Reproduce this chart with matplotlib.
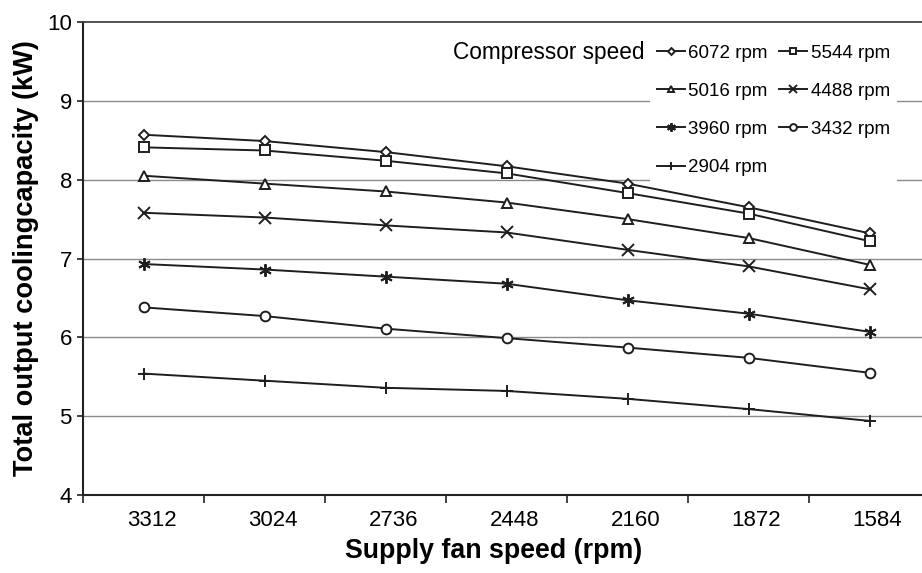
import matplotlib
matplotlib.use("Agg")
import matplotlib.pyplot as plt
from matplotlib.transforms import ScaledTranslation
import numpy as np

plt.rcParams['font.family'] = ['Liberation Sans', 'DejaVu Sans']

fan_speeds = ["3312", "3024", "2736", "2448", "2160", "1872", "1584"]
series_labels = ["6072 rpm", "5544 rpm", "5016 rpm", "4488 rpm", "3960 rpm", "3432 rpm", "2904 rpm"]
cap_6072 = [8.57, 8.49, 8.35, 8.17, 7.95, 7.65, 7.32]
cap_5544 = [8.41, 8.37, 8.24, 8.08, 7.83, 7.57, 7.22]
cap_5016 = [8.05, 7.95, 7.85, 7.71, 7.50, 7.26, 6.92]
cap_4488 = [7.58, 7.52, 7.42, 7.33, 7.11, 6.90, 6.61]
cap_3960 = [6.93, 6.86, 6.77, 6.68, 6.47, 6.30, 6.07]
cap_3432 = [6.38, 6.27, 6.11, 5.99, 5.87, 5.74, 5.55]
cap_2904 = [5.54, 5.45, 5.36, 5.32, 5.22, 5.09, 4.94]
series = [cap_6072, cap_5544, cap_5016, cap_4488, cap_3960, cap_3432, cap_2904]
markers = ['D', 's', '^', 'x', (6, 2, 0), 'o', '+']
msizes = [5, 7, 7, 8, 9, 7, 9]

fig = plt.figure(figsize=(9.22, 5.73), dpi=100)
ax = fig.add_axes([83/922, 78/573, 847/922, 473/573])

x = np.arange(len(fan_speeds))
lc = '#1e1e1e'
handles = []
for vals, m, ms, lab in zip(series, markers, msizes, series_labels):
    filled = m in ('x', '+') or isinstance(m, tuple)
    h, = ax.plot(x, vals, color=lc, lw=1.4, marker=m, markersize=ms,
                 markerfacecolor=(lc if filled else 'white'), markeredgecolor=lc,
                 markeredgewidth=1.4, label=lab, zorder=3)
    handles.append(h)

ax.set_xlim(-0.5, 6.5)
ax.set_ylim(4, 10)
ax.set_yticks(range(4, 11))
ax.set_xticks(x)
ax.set_xticklabels(fan_speeds)
ax.set_xticks(np.arange(-0.5, 7.0, 1.0), minor=True)
ax.tick_params(axis='x', which='major', length=0, pad=11, labelsize=16)
ax.tick_params(axis='x', which='minor', length=6, width=1.2, color='#222')
ax.tick_params(axis='y', length=4, width=1.2, color='#222', pad=4, labelsize=16)
for lbl in ax.get_xticklabels():
    lbl.set_transform(lbl.get_transform() + ScaledTranslation(8/100, 0, fig.dpi_scale_trans))

for yv in range(5, 10):
    ax.axhline(yv, color='#8a8a8a', lw=1.0, zorder=1)

for s in ['left', 'bottom']:
    ax.spines[s].set_linewidth(1.5)
    ax.spines[s].set_color('#222')
ax.spines['top'].set_linewidth(1.3)
ax.spines['top'].set_color('#444')
ax.spines['right'].set_visible(False)

ax.set_xlabel("Supply fan speed (rpm)", fontsize=19.3, fontweight='bold', labelpad=5)
ax.xaxis.label.set_x((493.5 - 83) / 847)
ax.set_ylabel("Total output coolingcapacity (kW)", fontsize=19.6, fontweight='bold', labelpad=6)

order = [0, 2, 4, 6, 1, 3, 5]
leg = ax.legend([handles[i] for i in order], [series_labels[i] for i in order],
                ncol=2, loc='upper left', bbox_to_anchor=(650/922, 1 - 38/573),
                bbox_transform=fig.transFigure, borderaxespad=0, borderpad=0.35,
                frameon=True, fancybox=False, framealpha=1, edgecolor='none',
                facecolor='white', fontsize=13.5, handlelength=1.5,
                handletextpad=0.2, columnspacing=0.6, labelspacing=1.12)
for lh in leg.legend_handles:
    lh.set_markersize(lh.get_markersize() * 0.7)
leg.set_zorder(5)

fig.text(453/922, 1 - 53/573, "Compressor speed", fontsize=16.3, va='center', ha='left')

fig.savefig("out.png", dpi=100)
